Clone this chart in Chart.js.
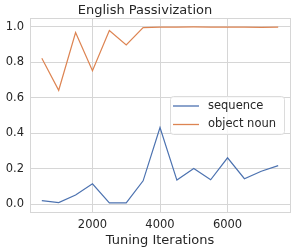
<!DOCTYPE html>
<html>
<head>
<meta charset="utf-8">
<script src="https://cdn.jsdelivr.net/npm/chart.js@4"></script>
<style>
  html, body { margin: 0; padding: 0; background: #fff; }
  #wrap { width: 295px; height: 252px; }
</style>
</head>
<body>
<div id="wrap"><canvas id="passChart"></canvas></div>
<script>
// данные графика
const iterations = [500, 1000, 1500, 2000, 2500, 3000, 3500, 4000, 4500, 5000, 5500, 6000, 6500, 7000, 7500];
const sequenceAcc = [0.019, 0.008, 0.051, 0.114, 0.006, 0.006, 0.131, 0.432, 0.135, 0.200, 0.137, 0.261, 0.143, 0.185, 0.217];
const objectNounAcc = [0.823, 0.642, 0.968, 0.753, 0.979, 0.898, 0.996, 0.998, 0.999, 1.000, 0.999, 0.998, 0.998, 0.997, 0.998];
const xTicks = [2000, 4000, 6000];
const yTicks = [0.0, 0.2, 0.4, 0.6, 0.8, 1.0];
const seriesNames = ['sequence', 'object noun'];

const textColor = '#262626';
const gridColor = '#d6d6d6';
const fontFamily = '"DejaVu Sans", sans-serif';

// рамка вокруг области графика (все четыре стороны, как в seaborn whitegrid)
const framePlugin = {
    id: 'frame',
    beforeDatasetsDraw(chart) {
        const a = chart.chartArea;
        const ctx = chart.ctx;
        ctx.save();
        ctx.strokeStyle = gridColor;
        ctx.lineWidth = 1;
        ctx.strokeRect(Math.round(a.left) + 0.5, Math.round(a.top) + 0.5,
            Math.round(a.right - a.left), Math.round(a.bottom - a.top));
        ctx.restore();
    }
};

// легенда внутри области графика
const innerLegend = {
    id: 'innerLegend',
    afterDraw(chart) {
        const a = chart.chartArea;
        const ctx = chart.ctx;
        const w = 114, h = 38;
        const x = a.right - 6 - w;
        const y = a.top + 78;
        ctx.save();
        ctx.beginPath();
        ctx.roundRect(x + 0.5, y + 0.5, w, h, 3);
        ctx.fillStyle = 'rgba(255,255,255,0.8)';
        ctx.fill();
        ctx.strokeStyle = '#dcdcdc';
        ctx.lineWidth = 1;
        ctx.stroke();
        ctx.font = '11.5px ' + fontFamily;
        ctx.textBaseline = 'middle';
        chart.data.datasets.forEach((ds, i) => {
            const ly = y + 10 + i * 18.5;
            ctx.strokeStyle = ds.borderColor;
            ctx.lineWidth = 1.3;
            ctx.beginPath();
            ctx.moveTo(x + 3, ly);
            ctx.lineTo(x + 29, ly);
            ctx.stroke();
            ctx.fillStyle = textColor;
            ctx.fillText(ds.label, x + 38, ly);
        });
        ctx.restore();
    }
};

new Chart(document.getElementById('passChart'), {
    type: 'line',
    data: {
        datasets: [{
            label: seriesNames[0],
            data: iterations.map((it, i) => ({ x: it, y: sequenceAcc[i] })),
            borderColor: '#4c72b0',
            borderWidth: 1.2,
            pointRadius: 0,
            tension: 0
        }, {
            label: seriesNames[1],
            data: iterations.map((it, i) => ({ x: it, y: objectNounAcc[i] })),
            borderColor: '#dd8452',
            borderWidth: 1.2,
            pointRadius: 0,
            tension: 0
        }]
    },
    options: {
        responsive: true,
        maintainAspectRatio: false,
        animation: false,
        layout: { padding: { left: 0, right: 5, top: 0, bottom: 0 } },
        plugins: {
            legend: { display: false },
            tooltip: { enabled: false },
            title: {
                display: true,
                text: 'English Passivization',
                color: textColor,
                font: { family: fontFamily, size: 13, weight: 'normal', lineHeight: 1 },
                padding: { top: 4, bottom: 1 }
            }
        },
        scales: {
            x: {
                type: 'linear',
                min: 150,
                max: 7850,
                afterBuildTicks: (scale) => { scale.ticks = xTicks.map(v => ({ value: v })); },
                afterFit: (scale) => { scale.height = 40; },
                grid: { color: gridColor, drawTicks: false },
                border: { display: false },
                ticks: {
                    color: textColor,
                    padding: 6,
                    maxRotation: 0,
                    font: { family: fontFamily, size: 11.5 },
                    callback: (v) => String(v)
                },
                title: {
                    display: true,
                    text: 'Tuning Iterations',
                    color: textColor,
                    font: { family: fontFamily, size: 13 },
                    padding: { top: 0, bottom: 4 }
                }
            },
            y: {
                min: -0.045,
                max: 1.05,
                afterBuildTicks: (scale) => { scale.ticks = yTicks.map(v => ({ value: v })); },
                afterFit: (scale) => { scale.width = 30; },
                grid: { color: gridColor, drawTicks: false },
                border: { display: false },
                ticks: {
                    color: textColor,
                    padding: 6,
                    font: { family: fontFamily, size: 11.5 },
                    callback: (v) => Number(v).toFixed(1)
                }
            }
        }
    },
    plugins: [framePlugin, innerLegend]
});
</script>
</body>
</html>
